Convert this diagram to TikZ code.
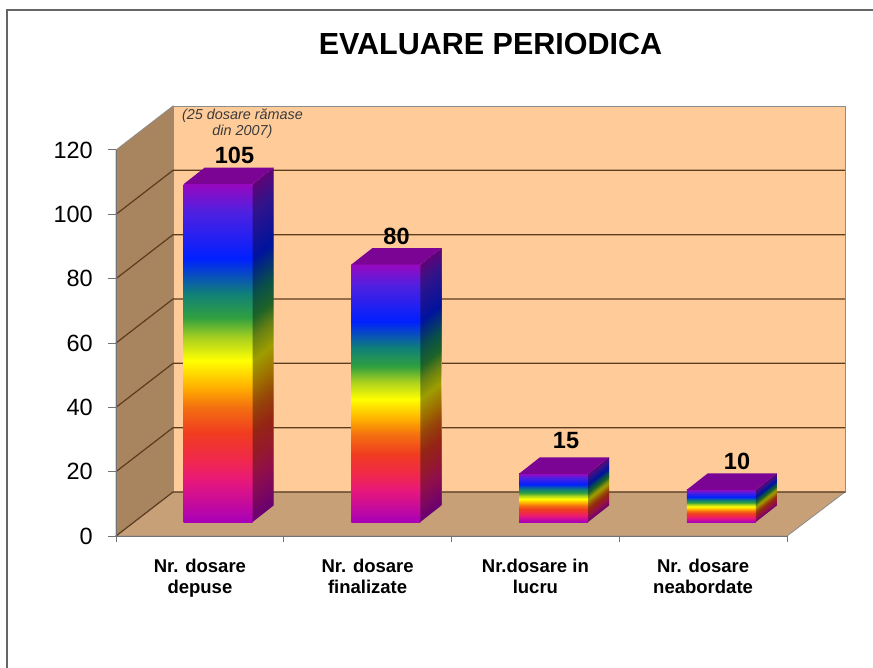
\documentclass[tikz,border=0pt]{standalone}
\usepackage{fontspec}
\setmainfont{Liberation Sans}
\definecolor{rbA}{HTML}{A800B8}
\definecolor{rbB}{HTML}{E8187A}
\definecolor{rbC}{HTML}{F0284C}
\definecolor{rbD}{HTML}{F03C20}
\definecolor{rbE}{HTML}{F47010}
\definecolor{rbF}{HTML}{FFB000}
\definecolor{rbG}{HTML}{FFFF00}
\definecolor{rbH}{HTML}{A8D020}
\definecolor{rbI}{HTML}{30A040}
\definecolor{rbJ}{HTML}{108078}
\definecolor{rbK}{HTML}{0020FF}
\definecolor{rbL}{HTML}{5020E0}
\definecolor{rbM}{HTML}{9808C0}
\definecolor{backwallc}{HTML}{FFCC99}
\definecolor{leftwallc}{HTML}{A8845F}
\definecolor{floorcc}{HTML}{C8A078}
\definecolor{gridc}{HTML}{5C3C1E}
\definecolor{edgec}{HTML}{8C8C8C}
\definecolor{bartopc}{HTML}{7C0494}
\definecolor{anncol}{HTML}{3A3A3A}
\pgfdeclareverticalshading{rainbow}{100bp}{%
  color(0bp)=(rbA); color(25bp)=(rbA); color(31.2bp)=(rbB); color(34.15bp)=(rbC);
  color(38.15bp)=(rbD); color(42bp)=(rbE); color(45bp)=(rbF); color(48.9bp)=(rbG);
  color(52.3bp)=(rbH); color(55.25bp)=(rbI); color(58.8bp)=(rbJ); color(64bp)=(rbK);
  color(71bp)=(rbL); color(75bp)=(rbM); color(100bp)=(rbM)}
\tikzset{
  frameline/.style={draw=black!60, line width=1.4pt},
  wallfill/.style={draw=edgec, line width=0.8pt},
  gridline/.style={draw=gridc, line width=1.2pt},
  axisline/.style={draw=black!55, line width=1pt},
  tickline/.style={draw=black!55, line width=1pt},
  titletext/.style={font=\bfseries\fontsize{30.5}{34}\selectfont, inner sep=0pt, anchor=base},
  ylab/.style={font=\fontsize{23.5}{26}\selectfont, inner sep=0pt, anchor=east},
  vlab/.style={font=\bfseries\fontsize{23.5}{26}\selectfont, inner sep=0pt, anchor=base},
  catlab/.style={font=\bfseries\fontsize{18.5}{21.5}\selectfont, inner sep=0pt, anchor=north, align=center},
  anntext/.style={font=\itshape\fontsize{14.4}{16}\selectfont, text=anncol, inner sep=0pt, anchor=north, align=center},
  barside/.style={fill=black, opacity=0.38},
  bartop/.style={fill=bartopc}
}
\begin{document}
\begin{tikzpicture}[x=1pt,y=-1pt]
\useasboundingbox (0,0) rectangle (873,668);
\fill[white] (0,0) rectangle (873,668);
\draw[frameline] (7,668) -- (7,10) -- (873,10);
% walls
\filldraw[wallfill, fill=leftwallc] (116,150) -- (173,106) -- (173,492) -- (116,536) -- cycle;
\filldraw[wallfill, fill=backwallc] (173,106) rectangle (845,492);
\filldraw[wallfill, fill=floorcc] (116,536) -- (173,492) -- (845,492) -- (787,536) -- cycle;
% gridlines
\foreach \k in {0,...,5}{
  \pgfmathsetmacro{\yy}{536-\k*64.333}
  \pgfmathsetmacro{\yb}{\yy-44}
  \draw[gridline] (116,\yy) -- (173,\yb) -- (845,\yb);
}
% axes
\draw[axisline] (116,150) -- (116,536) -- (787,536);
\foreach \k in {0,...,6}{
  \pgfmathsetmacro{\yy}{536-\k*64.333}
  \draw[tickline] (108,\yy) -- (116,\yy);
}
\foreach \k in {0,...,4}{
  \pgfmathsetmacro{\xx}{116+\k*167.75}
  \draw[tickline] (\xx,536) -- (\xx,542);
}
% bars
\foreach \i/\v in {0/105,1/80,2/15,3/10}{
  \pgfmathsetmacro{\xl}{183.5+\i*167.75}
  \pgfmathsetmacro{\xr}{\xl+69}
  \pgfmathsetmacro{\xb}{\xl+90}
  \pgfmathsetmacro{\xc}{\xl+21}
  \pgfmathsetmacro{\yt}{522-\v*3.2167}
  \pgfmathsetmacro{\ytb}{\yt-16.5}
  \pgfmathsetmacro{\ty}{-0.785714*\xr}
  \shade[shading=rainbow] (\xl,522) rectangle (\xr,\yt);
  \begin{scope}[transform canvas={cm={1,0.785714,0,1,(0pt,\ty pt)}}]
    \shade[shading=rainbow] (\xr,522) rectangle (\xb,\yt);
    \fill[barside] (\xr,522) rectangle (\xb,\yt);
  \end{scope}
  \fill[bartop] (\xl,\yt) -- (\xc,\ytb) -- (\xb,\ytb) -- (\xr,\yt) -- cycle;
}
% texts
\node[titletext] (title) at (490.5,55) {EVALUARE PERIODICA};
\node[ylab] (y0) at (93,536) {0};
\node[ylab] (y20) at (93,471.7) {20};
\node[ylab] (y40) at (93,407.3) {40};
\node[ylab] (y60) at (93,343) {60};
\node[ylab] (y80) at (93,278.7) {80};
\node[ylab] (y100) at (93,214.3) {100};
\node[ylab] (y120) at (93,150) {120};
\node[vlab] (v1) at (234.5,164) {105};
\node[vlab] (v2) at (396.5,245) {80};
\node[vlab] (v3) at (566,448) {15};
\node[vlab] (v4) at (737,469) {10};
\node[anntext] (ann) at (242.5,108.5) {(25 dosare rămase\\din 2007)};
\node[catlab] (c1) at (199.9,558.8) {Nr. dosare\\depuse};
\node[catlab] (c2) at (367.6,558.8) {Nr. dosare\\finalizate};
\node[catlab] (c3) at (535.4,558.8) {Nr.dosare in\\lucru};
\node[catlab] (c4) at (703.1,558.8) {Nr. dosare\\neabordate};
\end{tikzpicture}
\end{document}
